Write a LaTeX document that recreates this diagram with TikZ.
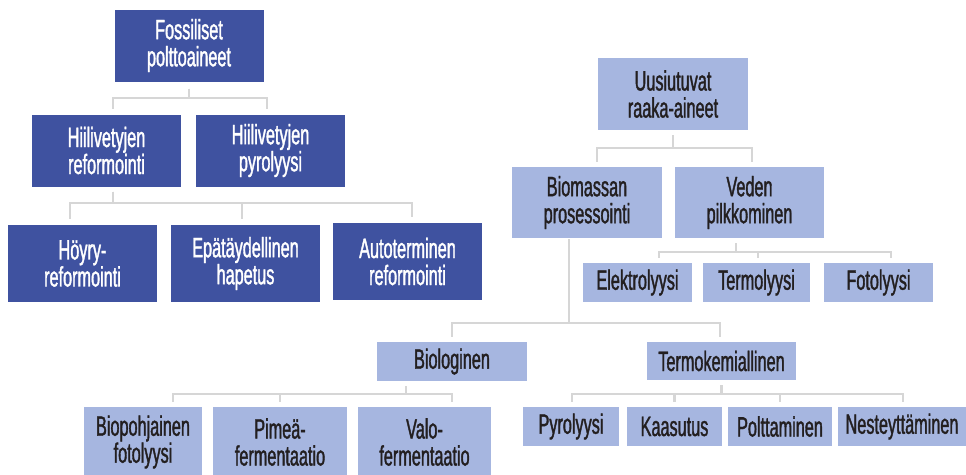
\documentclass[tikz,border=0pt]{standalone}
\usepackage{fontspec}
\setmainfont{Liberation Sans}[FakeStretch=0.58,FakeBold=1.3]
\usetikzlibrary{calc}
\definecolor{darkbox}{HTML}{3F52A0}
\definecolor{lightbox}{HTML}{A6B6E0}
\definecolor{linkgray}{HTML}{D6D6D6}
\definecolor{ink}{HTML}{231F20}
\begin{document}
\begin{tikzpicture}[x=1pt,y=-1pt,
    box/.style={inner sep=0pt,align=center,font=\fontsize{28}{27}\selectfont},
    fossil/.style={box,fill=darkbox,text=white,minimum width=149,minimum height=72},
    renew/.style={box,fill=lightbox,text=ink,minimum width=#1},
    renew/.default=149,
    link/.style={draw=linkgray,line width=2.2pt}]
    \useasboundingbox (0,0) rectangle (966,474);
    \clip (0,0) rectangle (966,474);
    \node[fossil] (fossil) at (189,45.5) {Fossiliset\\polttoaineet};
    \node[fossil] (hreform) at (106.5,150.5) {Hiilivetyjen\\reformointi};
    \node[fossil] (hpyro) at (270.5,150.5) {Hiilivetyjen\\pyrolyysi};
    \node[fossil,minimum height=77] (hoyry) at (82.5,263.5) {Höyry-\\reformointi};
    \node[fossil,minimum height=77] (epat) at (245.5,263.5) {Epätäydellinen\\hapetus};
    \node[fossil,minimum height=77] (auto) at (407.5,261.5) {Autoterminen\\reformointi};
    \node[renew=150,minimum height=72] (uusi) at (673,94) {Uusiutuvat\\raaka-aineet};
    \node[renew=150,minimum height=71] (bio) at (587,202.5) {Biomassan\\prosessointi};
    \node[renew,minimum height=71] (vesi) at (749.5,202.5) {Veden\\pilkkominen};
    \node[renew=109,minimum height=39] (elek) at (637.5,282.5) {Elektrolyysi};
    \node[renew=107,minimum height=39] (termo) at (756.5,282.5) {Termolyysi};
    \node[renew=109,minimum height=39] (foto) at (878.5,282.5) {Fotolyysi};
    \node[renew=150,minimum height=39] (biol) at (452,361.5) {Biologinen};
    \node[renew,minimum height=38] (tkem) at (721.5,361) {Termokemiallinen};
    \node[renew=118,minimum height=70] (biofoto) at (143,442) {Biopohjainen\\fotolyysi};
    \node[renew=134,minimum height=70] (pimea) at (280,442) {Pimeä-\\fermentaatio};
    \node[renew=133,minimum height=70] (valo) at (424.5,442) {Valo-\\fermentaatio};
    \node[renew=96,minimum height=39] (pyro) at (571,426.5) {Pyrolyysi};
    \node[renew=95,minimum height=39] (kaasu) at (674.5,426.5) {Kaasutus};
    \node[renew=104,minimum height=39] (poltto) at (780,426.5) {Polttaminen};
    \node[renew=128,minimum height=39] (neste) at (902,426.5) {Nesteyttäminen};
    \foreach \kid/\dx in {hreform/6.5,hpyro/-3.5}
        \draw[link] ($(fossil.south)+(0,7)$) -- ++(0,9) -| ($(\kid.north)+(\dx,-5)$);
    \foreach \kid/\dx in {hoyry/-12.5,epat/-3.5,auto/4.5}
        \draw[link] ($(hreform.south)+(6.5,5)$) -- ++(0,11) -| ($(\kid.north)+(\dx,-6)$);
    \foreach \kid/\dx in {bio/10,vesi/2.5}
        \draw[link] ($(uusi.south)+(0,5)$) -- ++(0,13) -| ($(\kid.north)+(\dx,-5)$);
    \foreach \kid/\dx in {elek/21.5,termo/1.5,foto/12.5}
        \draw[link] ($(vesi.south)+(-13.5,5)$) -- ++(0,9) -| ($(\kid.north)+(\dx,-5)$);
    \foreach \kid/\dx in {biol/0,tkem/-1.5}
        \draw[link] ($(bio.south)+(-18,1)$) -- ++(0,84) -| ($(\kid.north)+(\dx,-5)$);
    \foreach \kid/\dx in {biofoto/30,pimea/0,valo/27.5}
        \draw[link] ($(biol.south)+(-46,5)$) -- ++(0,8) -| ($(\kid.north)+(\dx,-5)$);
    \foreach \kid/\dx in {pyro/1,kaasu/0,poltto/0,neste/1}
        \draw[link] ($(tkem.south)+(0,5)$) -- ++(0,9) -| ($(\kid.north)+(\dx,-5)$);
\end{tikzpicture}
\end{document}
